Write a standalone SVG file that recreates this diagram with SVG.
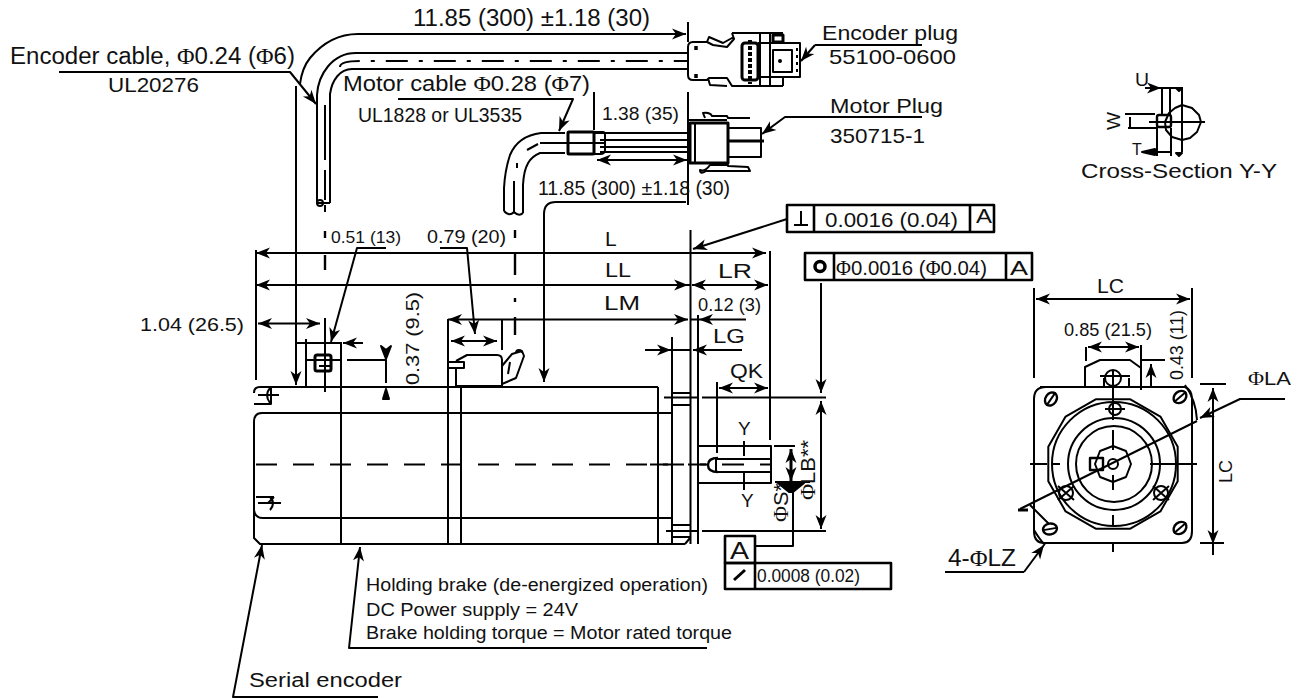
<svg xmlns="http://www.w3.org/2000/svg" width="1299" height="698" viewBox="0 0 1299 698">
<style>
text{font-family:"Liberation Sans",Arial,sans-serif;fill:#111}
.p{font-family:"Liberation Serif","Times New Roman",serif}
g{fill:none;stroke:#000;stroke-width:2;stroke-linejoin:round}
g text{stroke:none;fill:#111}
.t{stroke-width:3}
.a{marker-end:url(#ah)}
.aa{marker-end:url(#ah);marker-start:url(#ah)}
.c{stroke-dasharray:21 16}
.dd{stroke-dasharray:22 11 4 11}
.f{fill:#000}
</style>
<defs>
<marker id="ah" markerUnits="userSpaceOnUse" markerWidth="18" markerHeight="14" refX="15" refY="7" orient="auto-start-reverse"><path d="M15,7 L1,1.500 L5,7 L1,12.500 Z" fill="#000" stroke="none"/></marker>
<g id="hole"><ellipse rx="7" ry="5.500" stroke-width="2.400"/><path d="M-8,0H8"/></g>
</defs>

<g id="motor-body">
<path d="M254,393 Q254,387 260,387 H658 M254,422 Q254,413 262,413 H672 M254,422 V538 L260,544 H685 M690,538 L685,544 M254,510 Q255,518 263,518 H672"/>
<path d="M341,387 V544 M448,319 V544 M461,386 V544 M658,387 V544 M672,337 V544 M690.500,230 V544 M698,315 V544"/>
<path d="M672,393 H690 M672,405 H690 M672,525 H690 M672,537 H690"/>
<path d="M664,397.500 H698 M702,397.500 H826 M666,531 H698 M702,531 H826"/>
<path class="c" d="M256,464.500 H708"/>
<path d="M254,404 H271 V387 M258,395 H279 M270,388 Q264,395 270,403"/>
<path d="M256,497 H274 M258,503 H281 M270,497 Q276,503 270,510 M274,497 L268,503"/>
</g>

<g id="encoder-port">
<path d="M306,339 V386 M306,343 H341 M341,342 V387"/>
<rect x="315" y="355" width="16" height="16" rx="2" class="t"/>
<path d="M319,360 H331 M319,366 H331 M307,360 H341 M325,318 V392"/>
<path d="M296,343 H305 M363,343 H343" class="a"/>
<path d="M347,360 H386 V383"/>
<path class="f" d="M386,359 L381,346 L386,350 L391,346 Z M386,389 L383,399 H389 Z"/>
</g>

<g id="brake-connector">
<path d="M456,386 V368 M448,362 H464 V368 H448 Z M456,361 L467,355 H497 Q502,355 502,360 V386 H456"/>
<path d="M502,366 L512,354 L522,351 L524,356 L516,378 L502,384 M510,362 L508,374 M516,353 A3,3 0 1 1 522,353"/>
</g>

<g id="encoder-cable">
<path d="M358,34 C335,34 320,46 310,58 Q302,68 300,84"/>
<path d="M317,95 C318,75 332,53 356,53 H688 M330,203 V94 C332,80 340,69 352,69 H688 M317,95 V203 H330"/>
<path d="M325,105 V160 M325,170 V200 M325,205 V212"/>
<path class="dd" d="M340,67 Q340,61 360,61 H688"/>
<circle cx="320" cy="203" r="3"/>
</g>

<g id="encoder-plug">
<path d="M688,47 Q688,42 693,42 H707 L713,45 L727,47 L734,39 L732,38 L723,43 L709,37 L707,42"/>
<path d="M688,47 V75 Q688,80 693,80 H707 L709,78 L727,78 L732,86 H783 M708,78 L710,85 L727,86 M732,33 H783 M734,39 L732,33"/>
<rect x="742" y="43" width="16" height="37" rx="3" class="t"/>
<path d="M760,33 V86 M770,33 V86 M758,43 H800 V77 H758"/>
<path d="M773,50 H792 V72 H773 Z M783,78 V86"/>
<path d="M773,35 H783 V42 H773 Z" class="t"/>
<path d="M750,40 V84" stroke-width="4" stroke-dasharray="4 2"/>
<circle cx="780" cy="61" r="1" class="f"/>
<path d="M696,46 V50 M696,74 V78" stroke-width="3.500"/>
<path d="M797,48 V74" stroke-dasharray="3 4"/>
</g>

<g id="motor-cable">
<path d="M565,133 H541 C525,135 515,143 510,155 Q505,170 504,188 V211 M523,213 V185 C524,165 530,157 540,153 H565"/>
<path d="M540,143 H567 M514,181 V212 M527,150 L538,144 M517,163 V168"/>
<path d="M504,211 Q509,217 514,212 Q519,217 523,213"/>
<rect x="568" y="132" width="26" height="22" rx="1" class="t"/>
<path d="M594,132 H603 Q605,132 605,135 V150 Q605,154 600,154 H594"/>
<path d="M594,133 H688 M600,140 H688 M568,143 H604 M600,147 H688 M600,152 H688"/>
</g>

<g id="motor-plug">
<rect x="690" y="123" width="38" height="40" class="t"/>
<path d="M688,120 H727 M695,123 V163 M705,118 L703,113 Q710,112 712,116 H727 L728,118 H750"/>
<path d="M728,128 H761 V157 H728"/>
<path d="M728,141 H764" class="t"/>
<path d="M700,170 Q705,172 710,165 H728 V166 L748,167 L750,171 H706 Q700,175 700,170 Z"/>
<path d="M688,92 V205"/>
</g>

<g id="shaft">
<path d="M699,446 H771 V483 H699 M774,446 H795"/>
<path d="M770,459 H716 V472 H770"/>
<path d="M718,458 Q708,458 708,465 Q708,472 718,472" stroke-width="2.400"/>
<path d="M722,464.500 H744 M760,464.500 H770 M688,464.500 H706 M650,464.500 H668"/>
<path d="M744,441 V456 M744,473 V490"/>
<path class="aa" d="M791,449 V481" stroke-width="3"/>
<path class="f" d="M778,483 H804 L793,492 H789 Z"/>
<path d="M775,482 H810"/>
<path d="M793,490 V546 H755"/>
</g>

<g id="dimensions">
<path d="M256,250 V380"/>
<path class="a" d="M690,253 H256"/><path class="a" d="M690,253 H766"/>
<path d="M770,251 V440"/>
<path class="a" d="M690,285 H256"/><path class="a" d="M440,285 H688"/>
<path class="aa" d="M692,285 H768"/>
<path class="a" d="M500,319.500 H448"/><path class="a" d="M500,319.500 H688"/>
<path class="a" d="M746,319.500 H699"/>
<path d="M690,319.500 H698"/>
<path class="a" d="M645,350 H671"/><path d="M672,350 H690"/><path class="a" d="M742,350 H693"/>
<path d="M717,382 V453"/>
<path class="aa" d="M719,388 H768"/>
<path d="M502,319 V350"/>
<path class="aa" d="M451,341 H497"/>
<path class="aa" d="M258,323.500 H320"/>
<path d="M325,231 V238 M325,255 V270 M515,230 V238 M515,252 V275 M515,298 V302 M515,317 V335" stroke-width="2.400"/>
<path class="a" d="M296,86 V385"/>
<path class="a" d="M358,34 H686"/>
<path d="M688,22 V42"/>
<path d="M594,92 V130"/>
<path class="aa" d="M597,160 H687"/>
<path class="a" d="M686,202 H556 Q544,202 544,214 V382"/>
<path class="a" d="M821,283 V393"/>
<path class="aa" d="M821,401 V529"/>
</g>

<g id="leaders">
<path class="a" d="M59,72 H290 L316,104"/>
<path class="a" d="M398,99 H573 L559,131"/>
<path class="a" d="M815,45 L801,61"/>
<path d="M815,45 H922"/>
<path class="a" d="M922,117 H785 L762,134"/>
<path class="a" d="M386,248 H357 L331,342"/>
<path class="a" d="M440,248 H467 L475,334"/>
<path class="a" d="M787,219 L693,249"/>
<path class="a" d="M707,648 H349 L360,547"/>
<path class="a" d="M378,697 H233 L262,545"/>
</g>

<g id="tolerance-perpendicular">
<rect x="787" y="205" width="207" height="27" stroke-width="2.600"/>
<path d="M814,205 V232 M970,205 V232" stroke-width="2.600"/>
<path d="M794,225 H808 M801,225 V211"/>
<text x="825" y="227" font-size="21" lengthAdjust="spacingAndGlyphs" textLength="133">0.0016 (0.04)</text>
<text x="976" y="223" font-size="20" lengthAdjust="spacingAndGlyphs" textLength="16">A</text>
</g>

<g id="tolerance-concentric">
<rect x="805" y="253" width="227" height="27" stroke-width="2.600"/>
<path d="M834,253 V280 M1006,253 V280" stroke-width="2.600"/>
<circle cx="820" cy="266.500" r="5" stroke-width="3.500"/>
<text x="836" y="275" font-size="21" lengthAdjust="spacingAndGlyphs" textLength="151"><tspan class="p">Φ</tspan>0.0016 (<tspan class="p">Φ</tspan>0.04)</text>
<text x="1010" y="275" font-size="20" lengthAdjust="spacingAndGlyphs" textLength="18">A</text>
</g>

<g id="tolerance-runout">
<rect x="725" y="536" width="30" height="27" stroke-width="2.600"/>
<rect x="725" y="563" width="166" height="26" stroke-width="2.600"/>
<path d="M755,563 V589" stroke-width="2.600"/>
<path d="M734,580 L745,570" class="t"/>
<text x="730" y="559" font-size="23" lengthAdjust="spacingAndGlyphs" textLength="19">A</text>
<text x="757" y="582" font-size="18" lengthAdjust="spacingAndGlyphs" textLength="103">0.0008 (0.02)</text>
</g>

<g id="end-view">
<path d="M1040,387 H1185 M1034,399 Q1034,387 1046,387 M1034,399 V531 Q1034,543 1044,543 H1182 Q1192,543 1192,531 V399 Q1192,390 1185,387"/>
<polygon points="1177.700,446.700 1160.400,416.600 1130.300,399.300 1095.700,399.300 1065.600,416.600 1048.300,446.700 1048.300,481.300 1065.600,511.400 1095.700,528.700 1130.300,528.700 1160.400,511.400 1177.700,481.300"/>
<circle cx="1114" cy="464" r="62"/>
<circle cx="1114" cy="464" r="46"/>
<circle cx="1114" cy="464" r="38"/>
<polygon points="1113,446 1126,451 1131,464 1126,477 1113,482 1100,477 1095,464 1100,451"/>
<circle cx="1113" cy="464" r="5"/>
<rect x="1090" y="458" width="13" height="12" stroke-width="2.400"/>
<path d="M1030,464 H1047 M1053,464 H1060 M1150,464 H1197 M1113,370 V420 M1113,430 V450 M1113,475 V490 M1113,515 V526 M1113,542 V552"/>
<path d="M1020,509 L1197,421"/>
<path class="t" d="M1018,510 H1028"/>
<path d="M1185,385 Q1196,400 1197,420 M1030,505 L1049,524 M1045,545 Q1040,540 1034,530"/>
<use href="#hole" transform="translate(1051,399) rotate(-55)"/>
<use href="#hole" transform="translate(1180,397) rotate(-40)"/>
<use href="#hole" transform="translate(1050,529) rotate(-10)"/>
<use href="#hole" transform="translate(1180,528) rotate(-40)"/>
<circle cx="1115" cy="409" r="6"/><path d="M1105,409 H1125"/>
<circle cx="1066" cy="493" r="7"/><path d="M1058,486 L1074,500 M1058,500 L1074,486"/>
<circle cx="1161" cy="493" r="7"/><path d="M1153,486 L1169,500 M1153,500 L1169,486"/>
<path d="M1085,387 V367 L1100,360 H1130 L1141,368 V390"/>
<path d="M1034,288 V378 M1192,288 V378"/>
<path class="aa" d="M1036,299 H1190"/>
<path d="M1141,345 V368 M1086,347 V361"/>
<path class="aa" d="M1088,347 H1139"/>
<path d="M1141,360 H1165"/>
<path class="a" d="M1151,387 V364"/>
<circle cx="1113" cy="378" r="8"/>
<path d="M1100,376 H1130 M1104,378 V387 M1129,378 V387"/>
<path class="aa" d="M1213,388 V544"/>
<path d="M1213,544 V555 M1200,384 H1226 M1200,543 H1224"/>
<path class="a" d="M1285,399 H1240 L1200,418"/>
<path class="a" d="M1024,572 L1044,545"/>
<path d="M945,572 H1024"/>
</g>

<g id="cross-section">
<path d="M1145,88 H1183 M1162,88 V115 M1170,88 V115 M1182,88 V152"/>
<path class="a" d="M1145,88 H1161"/>
<polygon points="1182,105 1192,108 1199,115 1201,122 1197,132 1190,138 1182,140 1172,137 1166,130 1165,122 1169,113 1175,108"/>
<path d="M1149,122 H1205"/>
<rect x="1157" y="115" width="14" height="12" rx="2" stroke-width="2.400"/>
<path d="M1125,114 H1155 M1128,128 H1157 M1130,117 V127 M1157,127 V156 M1171,128 V156 M1157,152 H1171"/>
<path class="f" d="M1142,152 L1155,149 V155 Z M1176,153 H1182 L1179,156 Z M1176,88 H1182 L1179,91 Z"/>
</g>

<g id="labels">
<text x="413" y="26" font-size="23" lengthAdjust="spacingAndGlyphs" textLength="237">11.85 (300) ±1.18 (30)</text>
<text x="10" y="64" font-size="23" lengthAdjust="spacingAndGlyphs" textLength="285">Encoder cable, <tspan class="p">Φ</tspan>0.24 (<tspan class="p">Φ</tspan>6)</text>
<text x="108" y="92" font-size="21" lengthAdjust="spacingAndGlyphs" textLength="91">UL20276</text>
<text x="343" y="91" font-size="22" lengthAdjust="spacingAndGlyphs" textLength="247">Motor cable <tspan class="p">Φ</tspan>0.28 (<tspan class="p">Φ</tspan>7)</text>
<text x="358" y="122" font-size="20" lengthAdjust="spacingAndGlyphs" textLength="164">UL1828 or UL3535</text>
<text x="822" y="40" font-size="21" lengthAdjust="spacingAndGlyphs" textLength="136">Encoder plug</text>
<text x="829" y="64" font-size="21" lengthAdjust="spacingAndGlyphs" textLength="127">55100-0600</text>
<text x="830" y="113" font-size="21" lengthAdjust="spacingAndGlyphs" textLength="113">Motor Plug</text>
<text x="830" y="143" font-size="21" lengthAdjust="spacingAndGlyphs" textLength="95">350715-1</text>
<text x="602" y="120" font-size="19" lengthAdjust="spacingAndGlyphs" textLength="77">1.38 (35)</text>
<text x="538" y="195" font-size="20" lengthAdjust="spacingAndGlyphs" textLength="192">11.85 (300) ±1.18 (30)</text>
<text x="1135" y="86" font-size="19" lengthAdjust="spacingAndGlyphs" textLength="14">U</text>
<text transform="translate(1120,130) rotate(-90)" font-size="19" lengthAdjust="spacingAndGlyphs" textLength="18">W</text>
<text x="1132" y="155" font-size="16">T</text>
<text x="1081" y="178" font-size="21" lengthAdjust="spacingAndGlyphs" textLength="196">Cross-Section Y-Y</text>
<text x="331" y="243" font-size="17" lengthAdjust="spacingAndGlyphs" textLength="70">0.51 (13)</text>
<text x="427" y="243" font-size="19" lengthAdjust="spacingAndGlyphs" textLength="79">0.79 (20)</text>
<text x="605" y="246" font-size="21">L</text>
<text x="605" y="277" font-size="21" lengthAdjust="spacingAndGlyphs" textLength="26">LL</text>
<text x="604" y="310" font-size="21" lengthAdjust="spacingAndGlyphs" textLength="36">LM</text>
<text x="718" y="278" font-size="21" lengthAdjust="spacingAndGlyphs" textLength="34">LR</text>
<text x="698" y="311" font-size="18" lengthAdjust="spacingAndGlyphs" textLength="63">0.12 (3)</text>
<text x="713" y="343" font-size="21" lengthAdjust="spacingAndGlyphs" textLength="32">LG</text>
<text x="730" y="378" font-size="20" lengthAdjust="spacingAndGlyphs" textLength="33">QK</text>
<text x="140" y="331" font-size="19" lengthAdjust="spacingAndGlyphs" textLength="104">1.04 (26.5)</text>
<text transform="translate(419,385) rotate(-90)" font-size="19" lengthAdjust="spacingAndGlyphs" textLength="93">0.37 (9.5)</text>
<text x="738" y="435" font-size="19">Y</text>
<text x="741" y="507" font-size="19">Y</text>
<text transform="translate(788,522) rotate(-90)" font-size="20" lengthAdjust="spacingAndGlyphs" textLength="39"><tspan class="p">Φ</tspan>S*</text>
<text transform="translate(815,500) rotate(-90)" font-size="21" lengthAdjust="spacingAndGlyphs" textLength="60"><tspan class="p">Φ</tspan>LB**</text>
<text x="1097" y="293" font-size="20" lengthAdjust="spacingAndGlyphs" textLength="27">LC</text>
<text x="1064" y="336" font-size="19" lengthAdjust="spacingAndGlyphs" textLength="88">0.85 (21.5)</text>
<text transform="translate(1183,380) rotate(-90)" font-size="19" lengthAdjust="spacingAndGlyphs" textLength="70">0.43 (11)</text>
<text x="1248" y="385" font-size="18" lengthAdjust="spacingAndGlyphs" textLength="43"><tspan class="p">Φ</tspan>LA</text>
<text transform="translate(1232,483) rotate(-90)" font-size="19" lengthAdjust="spacingAndGlyphs" textLength="23">LC</text>
<text x="948" y="566" font-size="23" lengthAdjust="spacingAndGlyphs" textLength="68">4-<tspan class="p">Φ</tspan>LZ</text>
<text x="366" y="591" font-size="18" lengthAdjust="spacingAndGlyphs" textLength="342">Holding brake (de-energized operation)</text>
<text x="366" y="616" font-size="18" lengthAdjust="spacingAndGlyphs" textLength="212">DC Power supply = 24V</text>
<text x="366" y="639" font-size="18" lengthAdjust="spacingAndGlyphs" textLength="366">Brake holding torque = Motor rated torque</text>
<text x="249" y="687" font-size="20" lengthAdjust="spacingAndGlyphs" textLength="153">Serial encoder</text>
</g>
</svg>
